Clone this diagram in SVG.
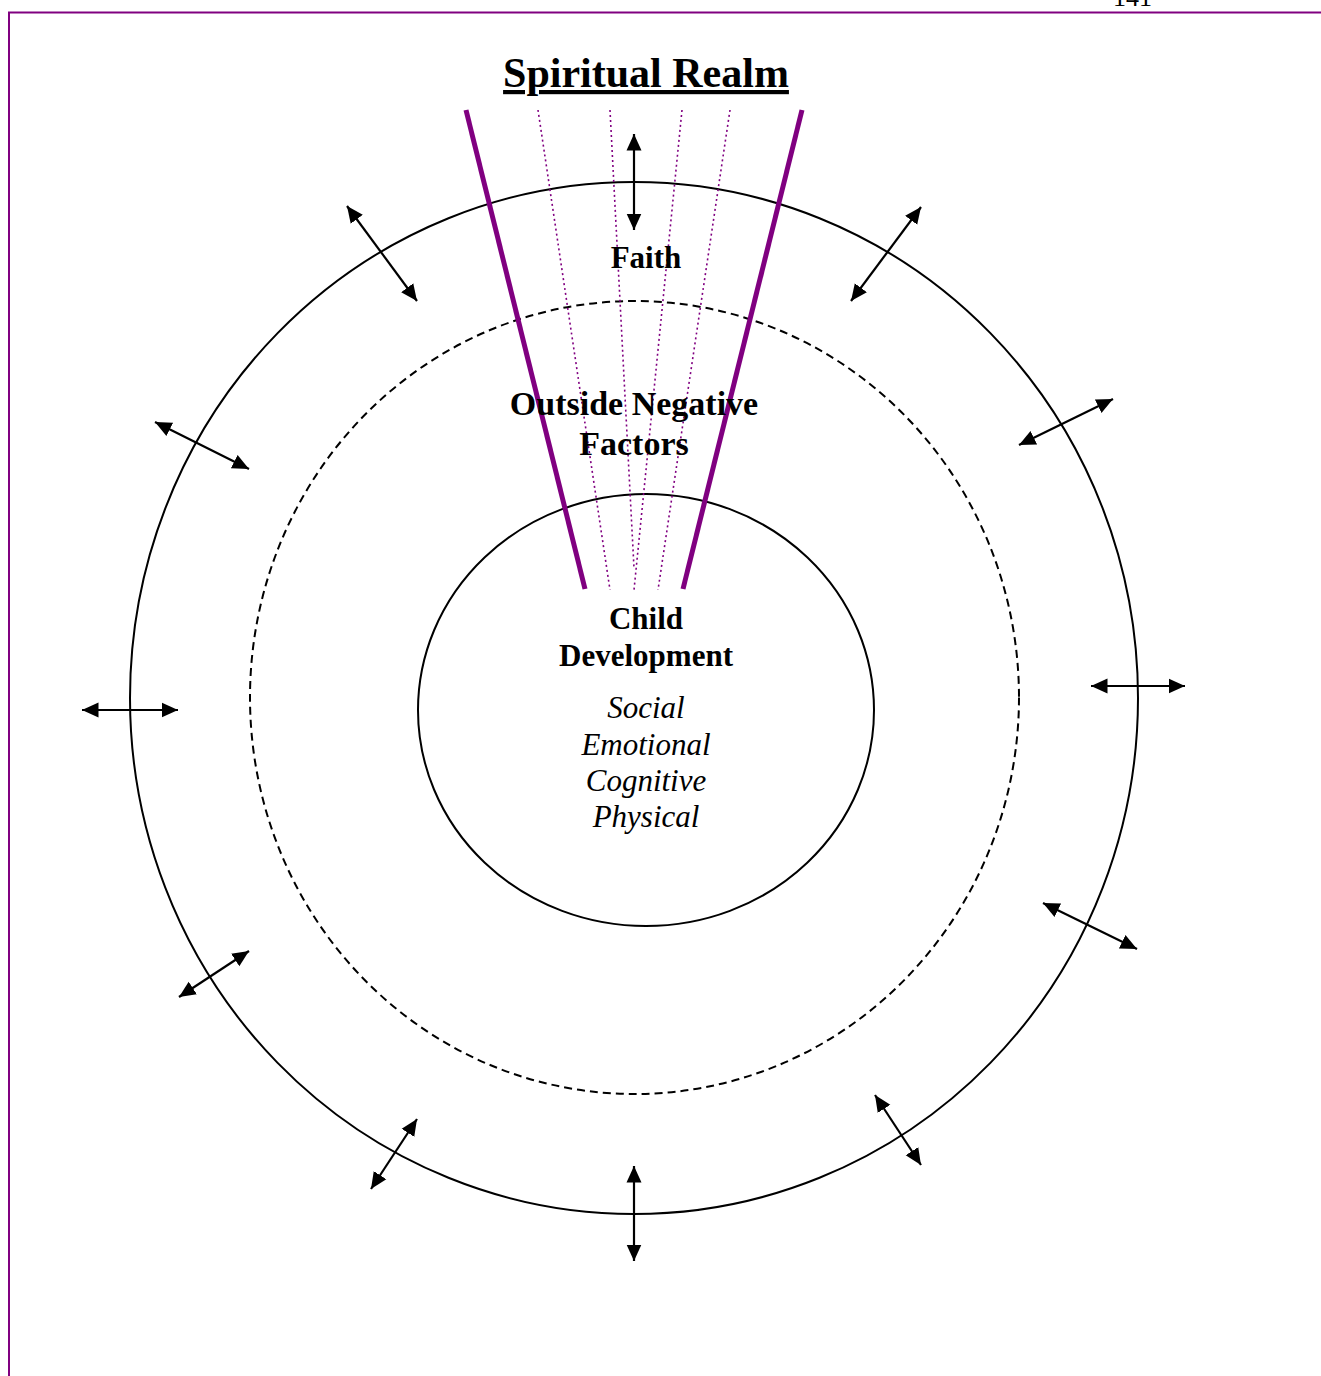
<svg xmlns="http://www.w3.org/2000/svg" width="1321" height="1376" viewBox="0 0 1321 1376">
<style>
.b{font-family:"Liberation Serif","Times New Roman",serif;font-weight:bold;fill:#000;text-anchor:middle}
.i{font-family:"Liberation Serif","Times New Roman",serif;font-style:italic;fill:#000;text-anchor:middle;font-size:31px}
.ring{fill:none;stroke:#000;stroke-width:2}
.beam{stroke:#800080;stroke-width:5;fill:none}
.ray{stroke:#800080;stroke-width:1.6;stroke-dasharray:2 3;fill:none}
.arr{stroke:#000;stroke-width:2.2;fill:none;marker-start:url(#ah);marker-end:url(#ah)}
</style>
<defs>
<marker id="ah" markerUnits="userSpaceOnUse" markerWidth="18" markerHeight="18" viewBox="0 0 18 18" refX="16.5" refY="9" orient="auto-start-reverse">
<path d="M0,1.5 L16.5,9 L0,16.5 Z" fill="#000"/>
</marker>
</defs>
<rect width="1321" height="1376" fill="#fff"/>
<g id="page">
<line x1="8" y1="12.5" x2="1321" y2="12.5" stroke="#800080" stroke-width="2"/>
<line x1="9" y1="12" x2="9" y2="1376" stroke="#800080" stroke-width="2"/>
<text x="1113" y="6" font-family="Liberation Serif, serif" font-size="26" fill="#000">141</text>
</g>
<g id="outer-ring"><ellipse class="ring" cx="634" cy="698" rx="504" ry="516"/></g>
<g id="negative-ring"><ellipse class="ring" cx="634.5" cy="697.5" rx="384.5" ry="396.5" stroke-dasharray="8 5"/></g>
<g id="child-circle"><ellipse class="ring" cx="646" cy="710" rx="228" ry="216"/></g>
<g id="faith-beam">
<line class="beam" x1="466" y1="110" x2="585" y2="589"/>
<line class="beam" x1="802" y1="110" x2="683" y2="589"/>
<line class="ray" x1="538" y1="110" x2="610" y2="590"/>
<line class="ray" x1="610" y1="110" x2="634" y2="568"/>
<line class="ray" x1="682" y1="110" x2="634" y2="590"/>
<line class="ray" x1="730" y1="110" x2="658" y2="590"/>
</g>
<g id="connectors">
<line class="arr" x1="634" y1="134" x2="634" y2="230"/>
<line class="arr" x1="347" y1="206" x2="417" y2="301"/>
<line class="arr" x1="921" y1="207" x2="851" y2="301"/>
<line class="arr" x1="155" y1="422" x2="249" y2="469"/>
<line class="arr" x1="1113" y1="399" x2="1019" y2="445"/>
<line class="arr" x1="82" y1="710" x2="178" y2="710"/>
<line class="arr" x1="1091" y1="686" x2="1185" y2="686"/>
<line class="arr" x1="1043" y1="903" x2="1137" y2="949"/>
<line class="arr" x1="249" y1="951" x2="179" y2="997"/>
<line class="arr" x1="875" y1="1095" x2="921" y2="1165"/>
<line class="arr" x1="417" y1="1119" x2="371" y2="1189"/>
<line class="arr" x1="634" y1="1166" x2="634" y2="1261"/>
</g>
<g id="title">
<text class="b" x="646" y="87" font-size="42" text-decoration="underline">Spiritual Realm</text>
</g>
<g id="faith"><text class="b" x="646" y="268" font-size="31">Faith</text></g>
<g id="outside-negative-factors">
<text class="b" x="634" y="415" font-size="34">Outside Negative</text>
<text class="b" x="634" y="455" font-size="34">Factors</text>
</g>
<g id="child-development">
<text class="b" x="646" y="629" font-size="31">Child</text>
<text class="b" x="646" y="666" font-size="31">Development</text>
<text class="i" x="646" y="718">Social</text>
<text class="i" x="646" y="755">Emotional</text>
<text class="i" x="646" y="791">Cognitive</text>
<text class="i" x="646" y="827">Physical</text>
</g>
</svg>
